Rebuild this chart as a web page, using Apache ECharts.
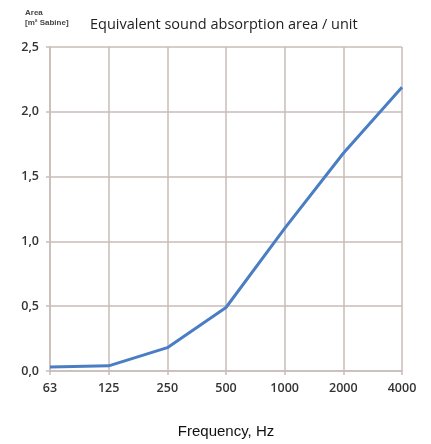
<!DOCTYPE html>
<html><head><meta charset="utf-8">
<script src="https://cdn.jsdelivr.net/npm/echarts@6/dist/echarts.min.js"></script>
<style>html,body{margin:0;padding:0;background:#fff}#c{width:431px;height:444px}</style>
</head><body><div id="c"></div>
<script>
const categories = ['63','125','250','500','1000','2000','4000'];
const areaValues = [0.03, 0.04, 0.18, 0.49, 1.10, 1.68, 2.19];
const yTicks = [0, 0.5, 1.0, 1.5, 2.0, 2.5];

const chart = echarts.init(document.getElementById('c'), null, {renderer:'canvas'});
const gridColor = '#c9bdb9';
chart.setOption({
  animation:false,
  title:[{
    text:'Equivalent sound absorption area / unit',
    left:85, top:12,
    textStyle:{fontFamily:'Open Sans', fontSize:14.5, fontWeight:'normal', color:'#222'}
  },{
    text:'Area\n[m² Sabine]',
    left:20, top:3,
    textStyle:{fontFamily:'Liberation Sans', fontSize:8, fontWeight:'bold', color:'#444', lineHeight:10}
  }],
  grid:{left:50, right:29, top:47, bottom:72},
  xAxis:{
    type:'category', data:categories, boundaryGap:false,
    name:'Frequency, Hz', nameLocation:'middle', nameGap:53,
    nameTextStyle:{fontFamily:'Liberation Sans', fontSize:15, color:'#111'},
    axisLine:{show:true, lineStyle:{color:gridColor, width:1.5}},
    axisTick:{show:true, alignWithLabel:true, length:4, lineStyle:{color:gridColor, width:1.5}},
    axisLabel:{fontFamily:'Open Sans', fontSize:12.5, color:'#333', margin:11, fontWeight:600},
    splitLine:{show:true, lineStyle:{color:gridColor, width:1.5}}
  },
  yAxis:{
    type:'value', min:0, max:2.5, interval:0.5,
    axisLine:{show:true, lineStyle:{color:gridColor, width:1.5}},
    axisTick:{show:true, length:4, lineStyle:{color:gridColor, width:1.5}},
    axisLabel:{fontFamily:'Open Sans', fontSize:12.5, color:'#333', margin:11, fontWeight:600,
      formatter:v=>v.toFixed(1).replace('.',',')},
    splitLine:{show:true, lineStyle:{color:gridColor, width:1.5}}
  },
  series:[{
    type:'line', data:areaValues, symbol:'none',
    lineStyle:{color:'#4a7ec4', width:3}
  }]
});
</script></body></html>
